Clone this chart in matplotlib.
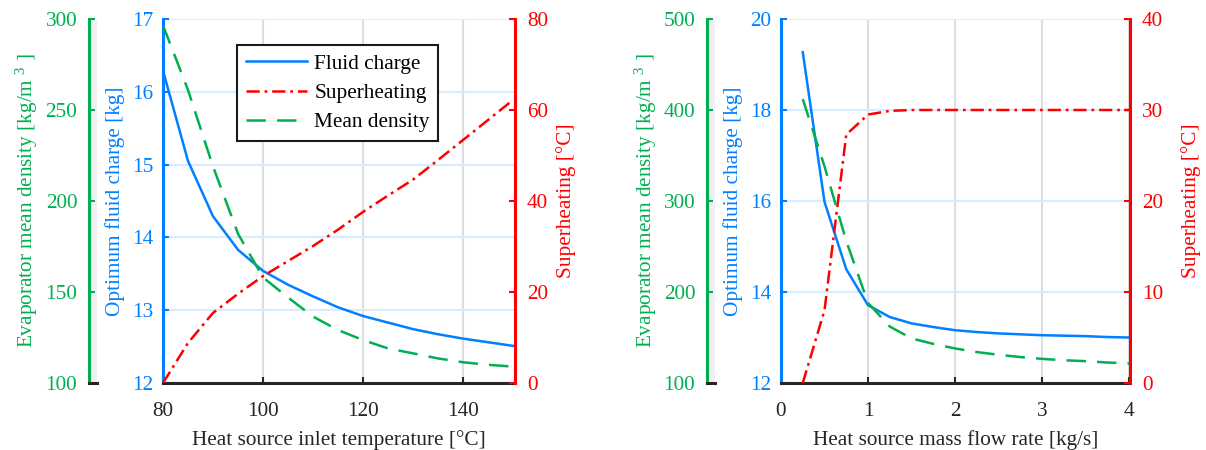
import matplotlib
matplotlib.use("Agg")
import matplotlib.pyplot as plt

plt.rcParams['font.family'] = ['Liberation Serif', 'DejaVu Serif']
plt.rcParams['mathtext.fontset'] = 'custom'
plt.rcParams['mathtext.rm'] = 'Liberation Serif'
plt.rcParams['lines.scale_dashes'] = False

# ---------------- data ----------------
temp = [80, 85, 90, 95, 100, 105, 110, 115, 120, 125, 130, 135, 140, 145, 150]
charge_temp = [16.29, 15.05, 14.29, 13.83, 13.54, 13.35, 13.19, 13.04, 12.92, 12.83, 12.74, 12.67, 12.61, 12.56, 12.51]
superheat_temp = [0, 8.8, 15.4, 19.6, 23.5, 26.8, 30.1, 33.7, 37.6, 41.2, 44.7, 49.0, 53.4, 57.8, 62.2]
density_temp = [296.5, 261, 219, 182, 158, 147, 136.5, 129.1, 123.6, 119, 116.3, 113.5, 111.4, 110, 109]

flow = [0.25, 0.5, 0.75, 1.0, 1.25, 1.5, 1.75, 2.0, 2.25, 2.5, 2.75, 3.0, 3.25, 3.5, 3.75, 4.0]
charge_flow = [19.27, 15.98, 14.50, 13.71, 13.45, 13.31, 13.23, 13.16, 13.12, 13.09, 13.07, 13.05, 13.04, 13.03, 13.01, 13.00]
superheat_flow = [0, 8.0, 27.3, 29.5, 29.9, 30.0, 30.0, 30.0, 30.0, 30.0, 30.0, 30.0, 30.0, 30.0, 30.0, 30.0]
density_flow = [412, 338, 256, 188, 162, 149, 143, 138, 134, 131, 128.5, 126.5, 125, 124, 122.5, 121.5]

legend_labels = ['Fluid charge', 'Superheating', 'Mean density']

BLUE = '#0080FF'
RED = '#FF0000'
GREEN = '#00B050'
DARK = '#262626'
BLUEGRID = '#D9ECFF'
GRAYGRID = '#DEDEDE'
FS = 15.3

W, H = 1206, 450
fig = plt.figure(figsize=(W / 100, H / 100), dpi=100)

TOP, BOT = 19, 383


def rect(x0, x1):
    return [x0 / W, (H - BOT) / H, (x1 - x0) / W, (BOT - TOP) / H]


def panel(x0, x1, gx0, x, charge, sh, dens, xlim, xticks, xlabel,
          blim, bticks, rlim, rticks, glim, gticks, red_pad):
    ax = fig.add_axes(rect(x0, x1))
    ax.set_axisbelow(True)
    lb, = ax.plot(x, charge, color=BLUE, lw=1.8, zorder=3)
    ax.set_xlim(*xlim)
    ax.set_xticks(xticks)
    ax.set_ylim(*blim)
    ax.set_yticks(bticks)
    ax.grid(axis='y', color=BLUEGRID, lw=1.5)
    ax.grid(axis='x', color=GRAYGRID, lw=1.5)
    for s in ['top', 'right']:
        ax.spines[s].set_visible(False)
    ax.spines['left'].set_color(BLUE)
    ax.spines['left'].set_linewidth(2.2)
    ax.spines['bottom'].set_color(DARK)
    ax.spines['bottom'].set_linewidth(2.2)
    ax.tick_params(axis='y', colors=BLUE, direction='in', length=4, width=1.5,
                   labelsize=FS, pad=7)
    ax.tick_params(axis='x', colors=DARK, direction='in', length=4, width=1.5,
                   labelsize=FS, pad=13.5)
    ax.set_xlabel(xlabel, fontsize=FS, color=DARK, labelpad=7)
    ax.set_ylabel('Optimum fluid charge [kg]', fontsize=FS, color=BLUE, labelpad=5)

    ax2 = ax.twinx()
    lr, = ax2.plot(x, sh, color=RED, lw=1.8, dashes=[9.5, 3.5, 2, 3.5], zorder=3)
    ax2.set_ylim(*rlim)
    ax2.set_yticks(rticks)
    for s in ['top', 'left', 'bottom']:
        ax2.spines[s].set_visible(False)
    ax2.spines['right'].set_color(RED)
    ax2.spines['right'].set_linewidth(2.2)
    ax2.tick_params(axis='y', colors=RED, direction='in', length=4, width=1.5,
                    labelsize=FS, pad=8.5)
    ax2.set_ylabel('Superheating [°C]', fontsize=FS, color=RED, labelpad=red_pad)

    ax3 = ax.twinx()
    lg, = ax3.plot(x, dens, color=GREEN, lw=1.8, dashes=[14, 8], zorder=3)
    ax3.set_ylim(*glim)
    for s in ax3.spines.values():
        s.set_visible(False)
    ax3.yaxis.set_visible(False)

    gax = fig.add_axes(rect(gx0, gx0 + 8))
    gax.set_facecolor('#F0F0F0')
    gax.set_ylim(*glim)
    gax.set_yticks(gticks)
    gax.set_xticks([])
    for s in ['top', 'right']:
        gax.spines[s].set_visible(False)
    gax.spines['left'].set_color(GREEN)
    gax.spines['left'].set_linewidth(2.2)
    gax.spines['bottom'].set_color(DARK)
    gax.spines['bottom'].set_linewidth(2.2)
    gax.tick_params(axis='y', colors=GREEN, direction='in', length=4, width=1.5,
                    labelsize=FS, pad=8.5)
    gax.set_ylabel('Evaporator mean density [kg/m $\\mathregular{^{3}}$ ]',
                   fontsize=FS, color=GREEN, labelpad=3.5)
    return ax, (lb, lr, lg)


axL, handles = panel(163, 515, 89, temp, charge_temp, superheat_temp, density_temp,
                     (80, 150.4), [80, 100, 120, 140], 'Heat source inlet temperature [°C]',
                     (12, 17), [12, 13, 14, 15, 16, 17], (0, 80), [0, 20, 40, 60, 80],
                     (100, 300), [100, 150, 200, 250, 300], 6)

axR, _ = panel(781, 1130, 707, flow, charge_flow, superheat_flow, density_flow,
               (0, 4.01), [0, 1, 2, 3, 4], 'Heat source mass flow rate [kg/s]',
               (12, 20), [12, 14, 16, 18, 20], (0, 40), [0, 10, 20, 30, 40],
               (100, 500), [100, 200, 300, 400, 500], 13)

leg = fig.legend(handles, legend_labels, loc='upper left',
                 bbox_to_anchor=(237 / W, 1 - 45 / H), bbox_transform=fig.transFigure,
                 fontsize=FS, frameon=True, fancybox=False, framealpha=1,
                 edgecolor='#1a1a1a', handlelength=2.86, labelspacing=0.44,
                 borderpad=0.42, handletextpad=0.35, borderaxespad=0)
leg.get_frame().set_linewidth(1.5)

fig.savefig('out.png', dpi=100)
